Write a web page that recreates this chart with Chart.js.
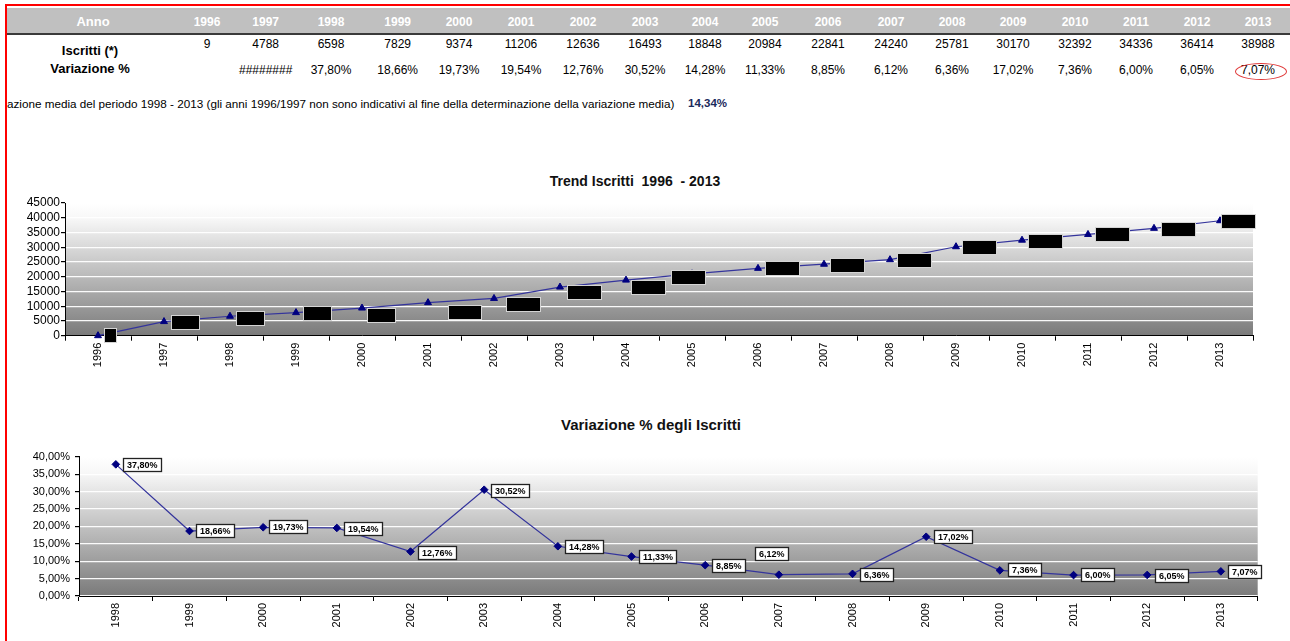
<!DOCTYPE html>
<html lang="it">
<head>
<meta charset="utf-8">
<title>Trend Iscritti 1996 - 2013</title>
<script src="https://cdn.jsdelivr.net/npm/chart.js@4.4.1/dist/chart.umd.min.js"></script>
<style>
  html, body { margin: 0; padding: 0; background: #fff; }
  body { width: 1290px; height: 641px; position: relative; overflow: hidden;
         font-family: 'Liberation Sans', Arial, sans-serif; color: #000; }
  .abs { position: absolute; }
  #frameTop  { left: 5px; top: 4px; width: 1285px; height: 2px; background: #ff0000; }
  #frameLeft { left: 5px; top: 4px; width: 2px; height: 637px; background: #ff0000; }
  #headBar   { left: 7px; top: 8px; width: 1283px; height: 25px; background: #c0c0c0;
               border-bottom: 2px solid #3a3a3a; }
  .cell { position: absolute; width: 64px; margin-left: -32px; text-align: center;
          white-space: nowrap; font-size: 12px; line-height: 14px; }
  .hd   { color: #fff; font-weight: bold; }
  .rowLabel { position: absolute; width: 160px; margin-left: -80px; text-align: center;
              white-space: nowrap; font-weight: bold; font-size: 13px; line-height: 14px; }
  #noteClip { left: 7px; top: 96px; width: 676px; height: 16px; overflow: hidden; }
  #note { position: absolute; top: 0; white-space: nowrap; font-size: 11.7px; line-height: 15px; }
  #media { left: 688px; top: 96px; font-size: 11.5px; line-height: 15px; font-weight: bold; color: #1b2a5c; }
  #ring { left: 1235px; top: 63px; width: 50px; height: 15px; border: 1px solid #e03a3a; border-radius: 50%; }
  .chartTitle { position: absolute; width: 500px; margin-left: -250px; text-align: center;
                font-weight: bold; white-space: pre; color: #111; }
  canvas { position: absolute; left: 0; }
</style>
</head>
<body>
<div class="abs" id="frameTop"></div>
<div class="abs" id="frameLeft"></div>
<div class="abs" id="headBar"></div>
<div id="table"></div>
<div class="abs" id="noteClip"><span id="note"></span></div>
<div class="abs" id="media"></div>
<div class="abs" id="ring"></div>

<div class="chartTitle" id="titleTrend" style="left:635px; top:172px; font-size:14px; line-height:18px;">Trend Iscritti  1996  - 2013</div>
<canvas id="trend" width="1290" height="215" style="top:160px;"></canvas>

<div class="chartTitle" id="titleVar" style="left:651px; top:416px; font-size:15px; line-height:18px;">Variazione % degli Iscritti</div>
<canvas id="variazione" width="1290" height="231" style="top:410px;"></canvas>

<script>
// ---- data ----
const years = ['1996','1997','1998','1999','2000','2001','2002','2003','2004',
               '2005','2006','2007','2008','2009','2010','2011','2012','2013'];
const iscritti = [9, 4788, 6598, 7829, 9374, 11206, 12636, 16493, 18848,
                  20984, 22841, 24240, 25781, 30170, 32392, 34336, 36414, 38988];
const variazioneYears = ['1998','1999','2000','2001','2002','2003','2004','2005',
                         '2006','2007','2008','2009','2010','2011','2012','2013'];
const variazione = [37.80, 18.66, 19.73, 19.54, 12.76, 30.52, 14.28, 11.33,
                    8.85, 6.12, 6.36, 17.02, 7.36, 6.00, 6.05, 7.07];
const mediaPeriodo = 14.34;
const trendTicks = [0, 5000, 10000, 15000, 20000, 25000, 30000, 35000, 40000, 45000];
const variazioneTicks = [0, 5, 10, 15, 20, 25, 30, 35, 40];

// ---- layout of the summary table (column centres, px) ----
const colCenter = [207, 265.7, 331, 397.7, 459, 521, 583, 645, 705, 765,
                   828, 891, 952, 1013, 1075, 1136, 1197, 1258];
const labelCenter = 90;

// label box placement relative to each point: [dx to box left, dy to box middle]
const trendLabelShift = [[6,0],[7,1],[6,2],[7,1],[5,7],[20,10],[12,6],[7,5],[5,7],
                         [-21,4],[7,0],[6,1],[7,1],[6,1],[6,1],[7,0],[7,1],[1,1]];
const variazioneLabelShift = [[7,1],[6,0],[6,0],[7,1],[7,1],[7,1],[7,1],[7,0],
                              [7,1],[-24,-21],[7,1],[8,0],[8,0],[7,0],[8,1],[7,1]];

const FONT = "'Liberation Sans', Arial, sans-serif";
const pct = v => v.toFixed(2).replace('.', ',') + '%';

// ---- summary table ----
(function buildTable() {
  const host = document.getElementById('table');
  const add = (cls, text, x, y) => {
    const d = document.createElement('div');
    d.className = cls; d.textContent = text;
    d.style.left = x + 'px'; d.style.top = y + 'px';
    host.appendChild(d);
  };
  add('rowLabel hd', 'Anno', labelCenter + 3, 15);
  add('rowLabel', 'Iscritti (*)', labelCenter, 43.5);
  add('rowLabel', 'Variazione %', labelCenter, 62);
  years.forEach((y, i) => {
    add('cell hd', y, colCenter[i], 15);
    add('cell', String(iscritti[i]), colCenter[i], 37);
    const k = variazioneYears.indexOf(y);
    let txt = '';
    if (k >= 0) txt = pct(variazione[k]);
    else if (i > 0) txt = '########';
    add('cell', txt, colCenter[i], 62.5);
  });
  const note = document.getElementById('note');
  note.textContent = 'Variazione media del periodo 1998 - 2013 (gli anni 1996/1997 non sono indicativi al fine della determinazione della variazione media)';
  // the first letters sit beyond the left edge of the cell
  const c = document.createElement('canvas').getContext('2d');
  c.font = '11.7px ' + FONT;
  note.style.left = (-c.measureText('Vari').width) + 'px';
  document.getElementById('media').textContent = pct(mediaPeriodo);
})();

// ---- plot background ----
const plotGradient = {
  id: 'plotGradient',
  beforeDraw(chart) {
    const { ctx, chartArea: a } = chart;
    const g = ctx.createLinearGradient(0, a.top, 0, a.bottom);
    g.addColorStop(0, '#ffffff');
    g.addColorStop(0.12, '#f7f7f7');
    g.addColorStop(1, '#7a7a7a');
    ctx.save();
    ctx.fillStyle = g;
    ctx.fillRect(a.left, a.top, a.right - a.left, a.bottom - a.top);
    ctx.restore();
  }
};

// ---- boxed value labels ----
function boxLabels(cfg) {
  return {
    id: 'boxLabels',
    afterDatasetsDraw(chart) {
      const ctx = chart.ctx;
      const meta = chart.getDatasetMeta(0);
      const values = chart.data.datasets[0].data;
      ctx.save();
      ctx.font = cfg.font;
      ctx.textBaseline = 'middle';
      meta.data.forEach((pt, i) => {
        const text = cfg.format(values[i]);
        const w = Math.round(ctx.measureText(text).width + 2 * cfg.padX);
        const h = cfg.height;
        const x = Math.round(pt.x + cfg.shift[i][0]);
        const y = Math.round(pt.y + cfg.shift[i][1] - h / 2);
        ctx.fillStyle = cfg.fill;
        ctx.fillRect(x, y, w, h);
        ctx.strokeStyle = cfg.border;
        ctx.lineWidth = cfg.borderWidth;
        ctx.strokeRect(x + 0.5, y + 0.5, w - 1, h - 1);
        ctx.fillStyle = cfg.color;
        ctx.fillText(text, x + cfg.padX, y + h / 2 + 0.5);
      });
      ctx.restore();
    }
  };
}

Chart.defaults.font.family = FONT;
Chart.defaults.color = '#000';

// ---- Trend Iscritti ----
new Chart(document.getElementById('trend'), {
  type: 'line',
  data: {
    labels: years,
    datasets: [{
      data: iscritti,
      borderColor: '#34349c',
      borderWidth: 1.2,
      tension: 0,
      pointStyle: 'triangle',
      pointRadius: 4,
      pointBackgroundColor: '#000080',
      pointBorderColor: '#000080',
      pointBorderWidth: 1,
      clip: false
    }]
  },
  options: {
    responsive: false, animation: false, events: [],
    layout: { padding: { left: 0, right: 37, top: 43, bottom: 0 } },
    plugins: { legend: { display: false }, title: { display: false }, tooltip: { enabled: false } },
    scales: {
      x: {
        offset: true,
        grid: { offset: true, drawOnChartArea: false, drawTicks: true, tickLength: 5, tickColor: '#000' },
        border: { color: '#000', width: 1 },
        ticks: { minRotation: 90, maxRotation: 90, autoSkip: false, padding: 2,
                 font: { size: 11 }, color: '#000' },
        afterFit(s) { s.height = 39.3; }
      },
      y: {
        min: 0, max: 45000,
        afterBuildTicks(s) { s.ticks = trendTicks.map(v => ({ value: v })); },
        afterFit(s) { s.width = 65; },
        ticks: { padding: 1, autoSkip: false, font: { size: 12 }, color: '#000', callback: v => String(v) },
        grid: { color: 'rgba(255,255,255,0.95)', lineWidth: 1.2, tickColor: '#000', tickLength: 4 },
        border: { color: '#000', width: 1 }
      }
    }
  },
  plugins: [plotGradient, boxLabels({
    shift: trendLabelShift, format: v => String(v),
    font: 'bold 10px ' + FONT, padX: 3.5, height: 15,
    fill: '#000', border: '#d4d4d4', borderWidth: 1, color: '#000'
  })]
});

// ---- Variazione % degli Iscritti ----
new Chart(document.getElementById('variazione'), {
  type: 'line',
  data: {
    labels: variazioneYears,
    datasets: [{
      data: variazione,
      borderColor: '#34349c',
      borderWidth: 1.2,
      tension: 0,
      pointStyle: 'rectRot',
      pointRadius: 3.8,
      pointBackgroundColor: '#000080',
      pointBorderColor: '#000080',
      pointBorderWidth: 1,
      clip: false
    }]
  },
  options: {
    responsive: false, animation: false, events: [],
    layout: { padding: { left: 0, right: 32.3, top: 46.7, bottom: 0 } },
    plugins: { legend: { display: false }, title: { display: false }, tooltip: { enabled: false } },
    scales: {
      x: {
        offset: true,
        grid: { offset: true, drawOnChartArea: false, drawTicks: true, tickLength: 5, tickColor: '#000' },
        border: { color: '#000', width: 1 },
        ticks: { minRotation: 90, maxRotation: 90, autoSkip: false, padding: 2,
                 font: { size: 11 }, color: '#000' },
        afterFit(s) { s.height = 45; }
      },
      y: {
        min: 0, max: 40,
        afterBuildTicks(s) { s.ticks = variazioneTicks.map(v => ({ value: v })); },
        afterFit(s) { s.width = 79; },
        ticks: { padding: 5, autoSkip: false, font: { size: 11 }, color: '#000', callback: v => pct(v) },
        grid: { color: 'rgba(255,255,255,0.95)', lineWidth: 1.2, tickColor: '#000', tickLength: 4 },
        border: { color: '#000', width: 1 }
      }
    }
  },
  plugins: [plotGradient, boxLabels({
    shift: variazioneLabelShift, format: pct,
    font: 'bold 9px ' + FONT, padX: 4, height: 14,
    fill: '#fff', border: '#222', borderWidth: 1.3, color: '#000'
  })]
});
</script>
</body>
</html>
